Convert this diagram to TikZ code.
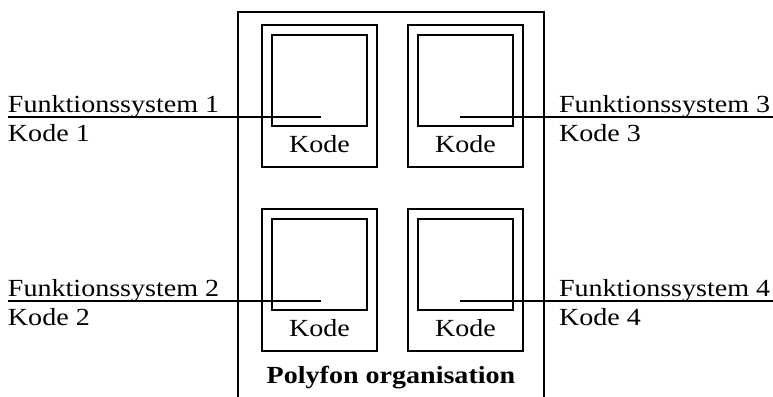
\documentclass[tikz,border=0pt]{standalone}
\usepackage{fontspec}
\setmainfont[FakeStretch=1.14]{Liberation Serif}
\begin{document}
\begin{tikzpicture}[x=1pt,y=-1pt,
  lw/.style={line width=1.9pt},
  outerbox/.style={draw,lw,inner sep=0pt,outer sep=0pt,minimum width=114.4pt,minimum height=142pt,anchor=north west},
  innerbox/.style={draw,lw,inner sep=0pt,outer sep=0pt,minimum width=94.4pt,minimum height=90.7pt,anchor=north west},
  txt/.style={inner sep=0pt,outer sep=0pt,font=\fontsize{24.6}{29.4}\selectfont},
  bold/.style={txt,font=\fontsize{24.6}{29.4}\selectfont\bfseries},
  conn/.style={lw}]
\useasboundingbox (0,0) rectangle (773,396);
% organisation frame
\draw[lw] (238.3,400) -- (238.3,11.7) -- (544.3,11.7) -- (544.3,400);
\node[bold,anchor=base] (org) at (391,383) {Polyfon organisation};
% boxes
\node[outerbox] (b1) at (262.3,25) {};
\node[innerbox] (i1) at (272.3,35) {};
\node[txt,anchor=base] (k1) at (319.5,152.3) {Kode};
\node[outerbox] (b3) at (408.3,25) {};
\node[innerbox] (i3) at (418.3,35) {};
\node[txt,anchor=base] (k3) at (465.5,152.3) {Kode};
\node[outerbox] (b2) at (262.3,209.3) {};
\node[innerbox] (i2) at (272.3,219.3) {};
\node[txt,anchor=base] (k2) at (319.5,336.6) {Kode};
\node[outerbox] (b4) at (408.3,209.3) {};
\node[innerbox] (i4) at (418.3,219.3) {};
\node[txt,anchor=base] (k4) at (465.5,336.6) {Kode};
% labels
\node[txt,anchor=base west] (f1) at (8,112.3) {Funktionssystem 1};
\node[txt,anchor=base west] (c1) at (8,141.7) {Kode 1};
\node[txt,anchor=base west] (f2) at (8,296.5) {Funktionssystem 2};
\node[txt,anchor=base west] (c2) at (8,325.9) {Kode 2};
\node[txt,anchor=base west] (f3) at (559,112.3) {Funktionssystem 3};
\node[txt,anchor=base west] (c3) at (559,141.7) {Kode 3};
\node[txt,anchor=base west] (f4) at (559,296.5) {Funktionssystem 4};
\node[txt,anchor=base west] (c4) at (559,325.9) {Kode 4};
% connector ends
\coordinate (e1) at (321,117.3);
\coordinate (e3) at (460,117.3);
\coordinate (e2) at (321,301.3);
\coordinate (e4) at (460,301.3);
\coordinate (r3) at (773,117.3);
\coordinate (r4) at (773,301.3);
\coordinate (l1) at (8,117.3);
\coordinate (l2) at (8,301.3);
\draw[conn] (l1) -- (e1);
\draw[conn] (l2) -- (e2);
\draw[conn] (e3) -- (r3);
\draw[conn] (e4) -- (r4);
\end{tikzpicture}
\end{document}
